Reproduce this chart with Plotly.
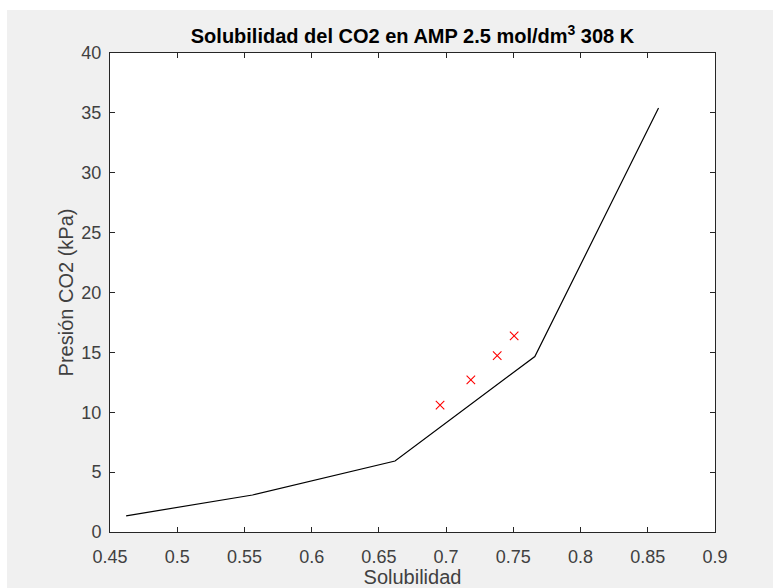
import plotly.graph_objects as go

# Model curve
sol_model = [0.462, 0.556, 0.662, 0.766, 0.858]
pres_model = [1.35, 3.09, 5.93, 14.65, 35.4]

# Experimental points
sol_exp = [0.6955, 0.7184, 0.738, 0.7506]
pres_exp = [10.6, 12.7, 14.72, 16.37]

x_ticks = [0.45, 0.5, 0.55, 0.6, 0.65, 0.7, 0.75, 0.8, 0.85, 0.9]
x_ticktext = ["0.45", "0.5", "0.55", "0.6", "0.65", "0.7", "0.75", "0.8", "0.85", "0.9"]
y_ticks = [0, 5, 10, 15, 20, 25, 30, 35, 40]

FONT = "Liberation Sans, Arial, Helvetica, sans-serif"
AX = "#262626"

fig = go.Figure()
fig.add_trace(go.Scatter(x=sol_model, y=pres_model, mode="lines",
                         line=dict(color="black", width=1.2), showlegend=False))
fig.add_trace(go.Scatter(x=sol_exp, y=pres_exp, mode="markers",
                         marker=dict(symbol="x-thin", size=8.5, color="red",
                                     line=dict(color="#ff0000", width=1.1)),
                         showlegend=False))

axis_common = dict(showline=True, linecolor=AX, linewidth=1, mirror="allticks",
                   ticks="inside", ticklen=5, tickcolor=AX, tickwidth=1,
                   showgrid=False, zeroline=False, automargin=False,
                   tickfont=dict(family=FONT, size=18, color="#404040"))

fig.update_xaxes(range=[0.45, 0.9], tickvals=x_ticks, ticktext=x_ticktext,
                 ticklabelstandoff=8,
                 title=dict(text="Solubilidad", font=dict(family=FONT, size=20, color="#404040"), standoff=2),
                 **axis_common)
fig.update_yaxes(range=[0, 40], tickvals=y_ticks, ticklabelstandoff=4,
                 title=dict(text="Presión CO2 (kPa)", font=dict(family=FONT, size=20, color="#404040"), standoff=2),
                 **axis_common)

fig.update_layout(
    width=773, height=588,
    margin=dict(l=110, r=58, t=53, b=56),
    paper_bgcolor="#f0f0f0", plot_bgcolor="white",
    title=dict(text="<b>Solubilidad del CO2 en AMP 2.5 mol/dm<sup>3</sup> 308 K</b>",
               font=dict(family=FONT, size=20, color="black"),
               x=(110 + 715) / 2 / 773, xanchor="center",
               y=1 - 36 / 588, yanchor="middle"),
    shapes=[
        dict(type="rect", xref="paper", yref="paper", x0=-0.3, x1=1.3,
             y0=(532 - 10) / 479, y1=1.3, fillcolor="white", line=dict(width=0), layer="below"),
        dict(type="rect", xref="paper", yref="paper", x0=-0.3, x1=(7 - 110) / 605,
             y0=-0.3, y1=1.3, fillcolor="white", line=dict(width=0), layer="below"),
    ],
)

fig.write_html("out.html")
